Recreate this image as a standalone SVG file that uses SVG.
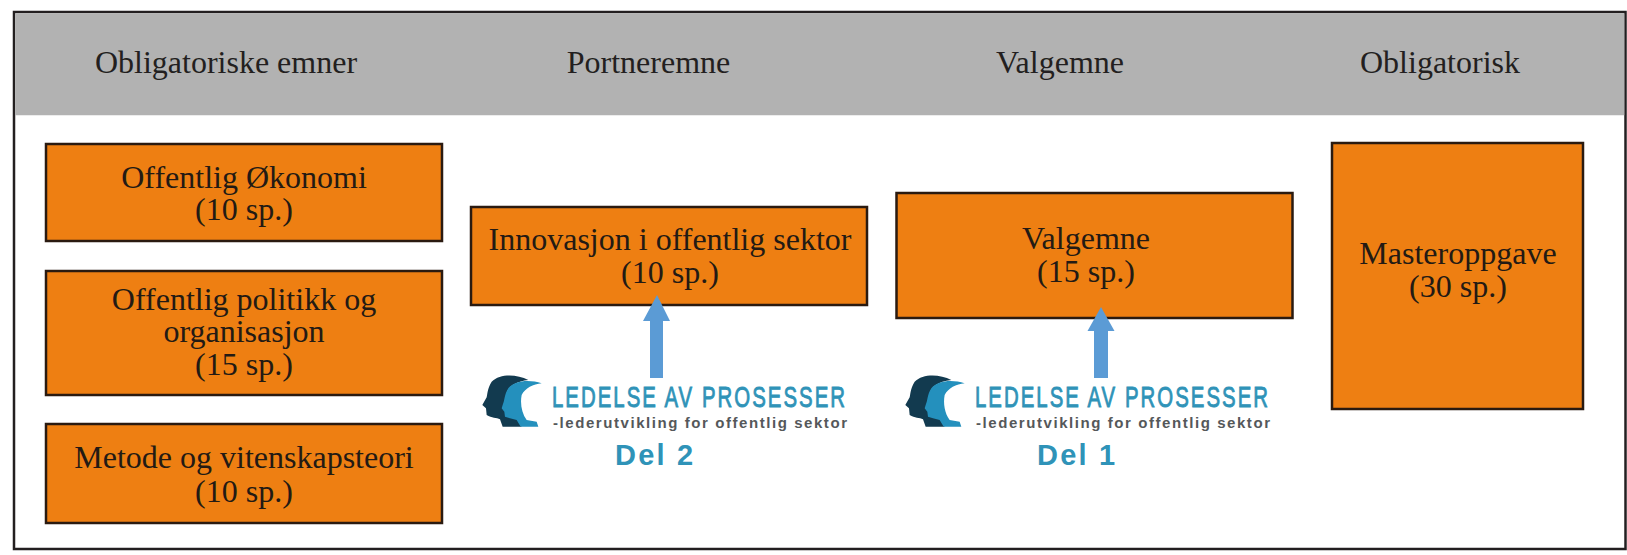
<svg xmlns="http://www.w3.org/2000/svg" width="1627" height="555" viewBox="0 0 1627 555">
<style>
.box{fill:#ee7f12;stroke:#2a1a10;stroke-width:2.5}
.t{font-family:"Liberation Serif",serif;font-size:32px;fill:#231a14;text-anchor:middle}
.h{fill:#231f20}
.arrow{fill:#5b9bd5}
.brand{font-family:"Liberation Sans",sans-serif;font-size:30px;fill:#2f93b8;stroke:#2f93b8;stroke-width:.9;letter-spacing:3px}
.tag{font-family:"Liberation Sans",sans-serif;font-weight:bold;font-size:15px;fill:#55585a}
.del{font-family:"Liberation Sans",sans-serif;font-weight:bold;font-size:29px;fill:#2f93b8;letter-spacing:2.2px}
</style>
<defs>
<g id="heads" transform="scale(.3333)">
<path fill="#123a4f" d="M235,300 C200,282 150,280 125,305 C112,325 112,345 110,352 L97,375 L108,385 L110,405 C125,415 140,412 150,418 L158,440 L215,440 L205,420 L175,400 L170,340 C175,320 195,305 235,300 Z"/>
<path fill="#2490bd" d="M275,310 C240,298 195,300 175,325 C162,345 165,360 158,375 L155,385 L163,395 L165,410 L180,415 L200,420 L212,440 L265,440 L260,425 L230,420 C215,400 210,370 215,345 C225,325 250,312 275,310 Z"/>
</g>
</defs>
<rect id="frame" x="14" y="12" width="1611.500" height="537" fill="#fff" stroke="#231f20" stroke-width="2.5"/>
<rect id="band" x="15.250" y="13.250" width="1609" height="102" fill="#b2b2b2"/>
<g id="header-1"><text class="t h" x="226" y="73">Obligatoriske emner</text></g>
<g id="header-2"><text class="t h" x="648.500" y="73">Portneremne</text></g>
<g id="header-3"><text class="t h" x="1060" y="73">Valgemne</text></g>
<g id="header-4"><text class="t h" x="1440" y="73">Obligatorisk</text></g>
<g id="node-okonomi"><rect class="box" x="46" y="144" width="396" height="97"/><text class="t" x="244" y="188">Offentlig Økonomi</text><text class="t" x="244" y="220">(10 sp.)</text></g>
<g id="node-politikk"><rect class="box" x="46" y="271" width="396" height="124"/><text class="t" x="244" y="310">Offentlig politikk og</text><text class="t" x="244" y="342">organisasjon</text><text class="t" x="244" y="375">(15 sp.)</text></g>
<g id="node-metode"><rect class="box" x="46" y="424" width="396" height="99"/><text class="t" x="244" y="468">Metode og vitenskapsteori</text><text class="t" x="244" y="502">(10 sp.)</text></g>
<g id="node-innovasjon"><rect class="box" x="471" y="207" width="396" height="98"/><text class="t" x="670" y="250">Innovasjon i offentlig sektor</text><text class="t" x="670" y="283">(10 sp.)</text></g>
<g id="node-valgemne"><rect class="box" x="896.500" y="193" width="396" height="125"/><text class="t" x="1086" y="249">Valgemne</text><text class="t" x="1086" y="282">(15 sp.)</text></g>
<g id="node-master"><rect class="box" x="1332" y="143" width="251" height="266"/><text class="t" x="1458" y="264">Masteroppgave</text><text class="t" x="1458" y="297">(30 sp.)</text></g>
<g id="connectors">
<path class="arrow" d="M657,295 L670,321 L663,321 L663,378 L650,378 L650,321 L643,321 Z"/>
<path class="arrow" d="M1101,307 L1114.500,331 L1108,331 L1108,378 L1094,378 L1094,331 L1087.500,331 Z"/>
</g>
<g id="logo-del2">
<use href="#heads" transform="translate(450,280)"/>
<text class="brand" x="552" y="407" textLength="295" lengthAdjust="spacingAndGlyphs">LEDELSE AV PROSESSER</text>
<text class="tag" x="553" y="428" textLength="294">-lederutvikling for offentlig sektor</text>
<text class="del" x="615" y="465">Del 2</text>
</g>
<g id="logo-del1">
<use href="#heads" transform="translate(873,280)"/>
<text class="brand" x="975" y="407" textLength="295" lengthAdjust="spacingAndGlyphs">LEDELSE AV PROSESSER</text>
<text class="tag" x="976" y="428" textLength="294">-lederutvikling for offentlig sektor</text>
<text class="del" x="1037" y="465">Del 1</text>
</g>
</svg>
